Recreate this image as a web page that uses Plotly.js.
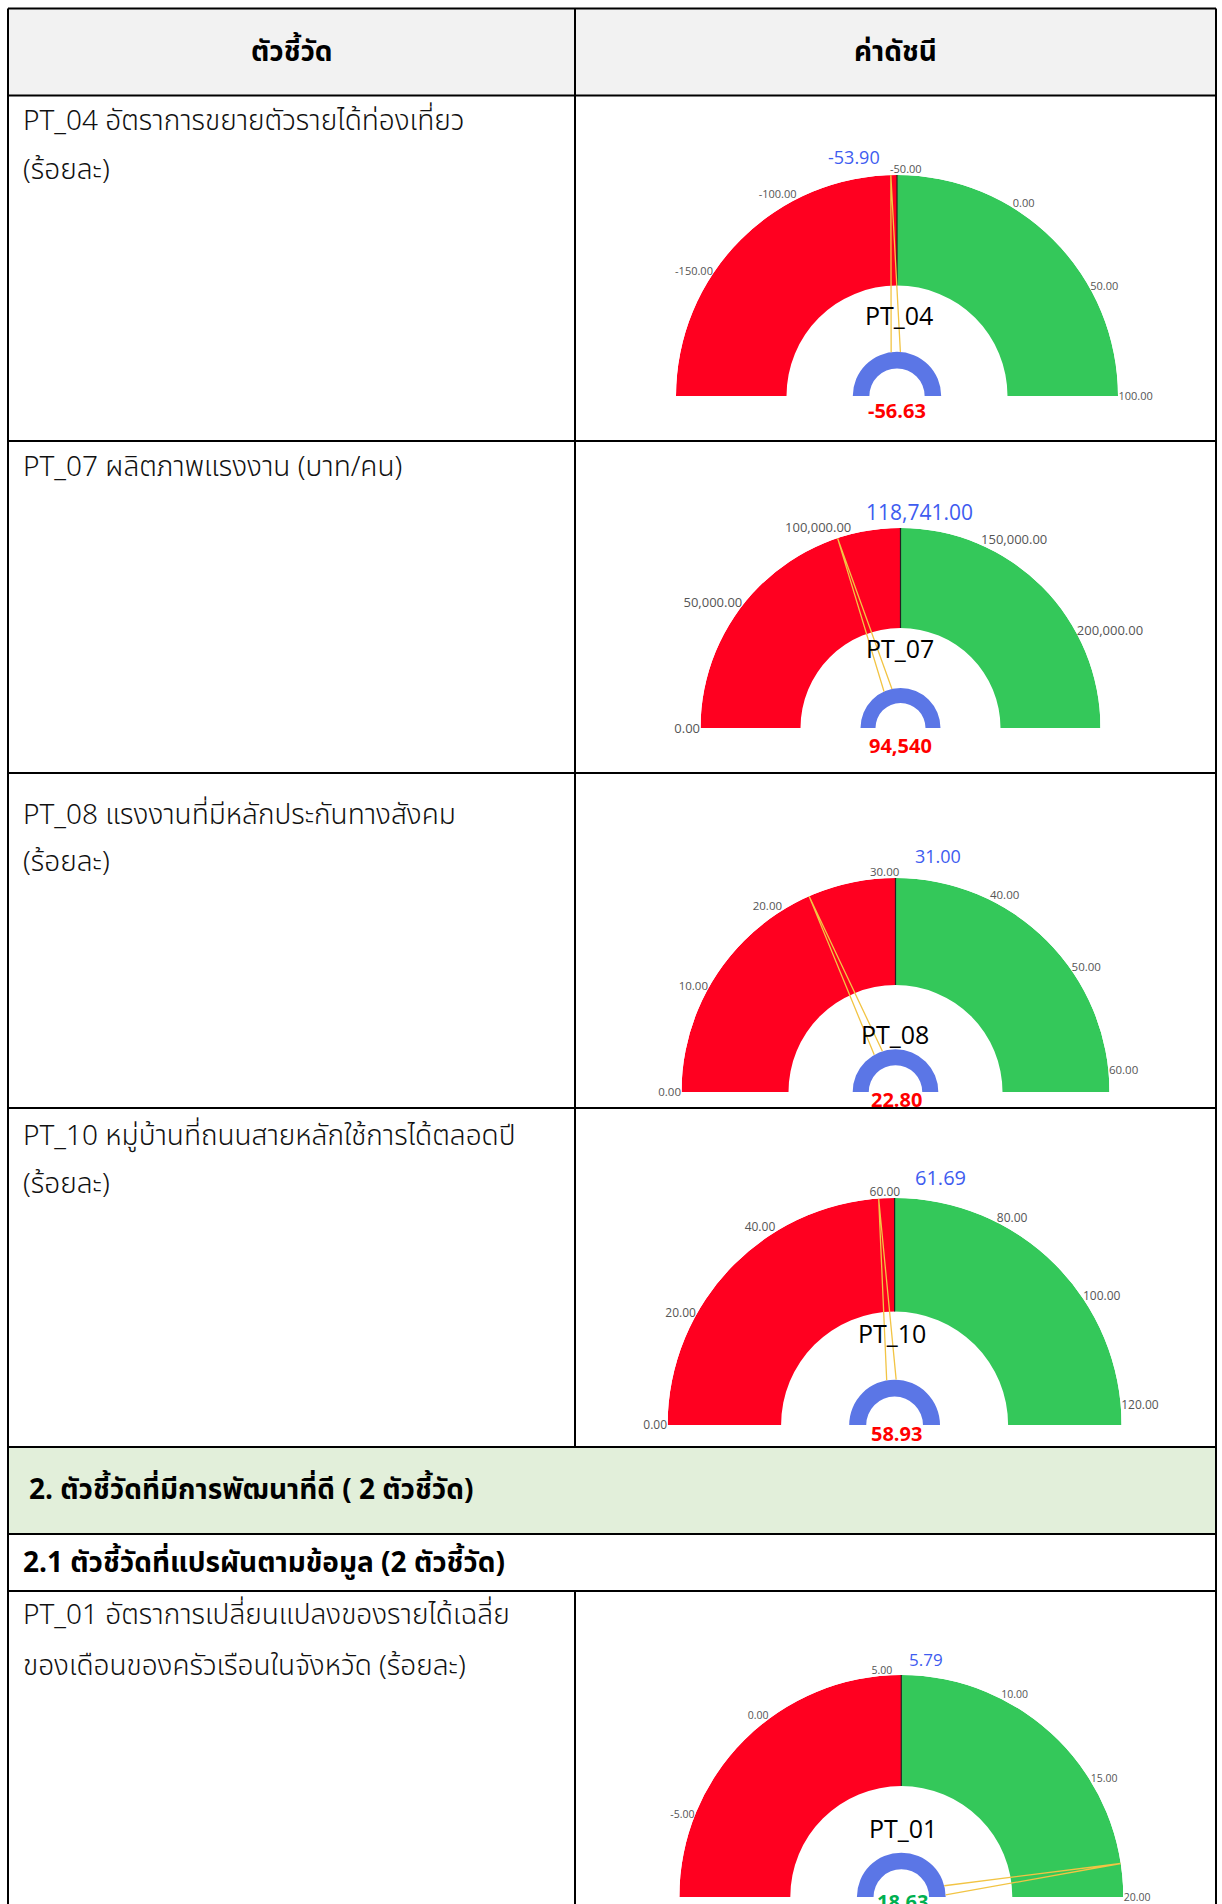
<!DOCTYPE html>
<html><head><meta charset="utf-8">
<script src="https://cdn.plot.ly/plotly-3.0.1.min.js"></script>
<style>html,body{margin:0;padding:0;background:#fff;} #chart{width:1222px;height:1904px;}</style>
</head><body><div id="chart"></div>
<script>
// ---------------- data ----------------
const headerLabels = ["ตัวชี้วัด", "ค่าดัชนี"];
const sectionTitle = "2. ตัวชี้วัดที่มีการพัฒนาที่ดี ( 2 ตัวชี้วัด)";
const subsectionTitle = "2.1 ตัวชี้วัดที่แปรผันตามข้อมูล (2 ตัวชี้วัด)";
const indicatorCodes = ["PT_04", "PT_07", "PT_08", "PT_10", "PT_01"];
const indicatorText = [
  ["PT_04 อัตราการขยายตัวรายได้ท่องเที่ยว", "(ร้อยละ)"],
  ["PT_07 ผลิตภาพแรงงาน (บาท/คน)"],
  ["PT_08 แรงงานที่มีหลักประกันทางสังคม", "(ร้อยละ)"],
  ["PT_10 หมู่บ้านที่ถนนสายหลักใช้การได้ตลอดปี", "(ร้อยละ)"],
  ["PT_01 อัตราการเปลี่ยนแปลงของรายได้เฉลี่ย", "ของเดือนของครัวเรือนในจังหวัด (ร้อยละ)"]
];
const gaugeValue  = [-56.63, 94540, 22.80, 58.93, 18.63];
const gaugeTarget = [-53.90, 118741, 31.00, 61.69, 5.79];
const gaugeMin    = [-207.80, 0, 0, 0, -8.42];
const gaugeMax    = [100, 237482, 62, 123.38, 20];
const gaugeTicks = [
  [-150, -100, -50, 0, 50, 100],
  [0, 50000, 100000, 150000, 200000],
  [0, 10, 20, 30, 40, 50, 60],
  [0, 20, 40, 60, 80, 100, 120],
  [-5, 0, 5, 10, 15, 20]
];
const valueDecimals = [2, 0, 2, 2, 2];

// ---------------- layout / style ----------------
const W = 1222, H = 1904;
const THAI = "'Noto Sans Thai','Leelawadee UI','Tahoma','Noto Sans',sans-serif";
const LAT = "'Segoe UI','Open Sans','Noto Sans',sans-serif";
const RED = '#FF0020', GREEN = '#34C85A', HUB = '#5B76E6', NEEDLE = '#F2C444';
const BLUE = '#3E5CF0';

const gaugeGeom = [
  {cx: 897,   cy: 396,  R: 221, tick: 11,   title: [899, 315],  val: [897, 410],  tgt: [854, 157],  tgtSize: 18},
  {cx: 900.5, cy: 728,  R: 200, tick: 13,   title: [900, 648],  val: [900, 746],  tgt: [919, 512],  tgtSize: 21},
  {cx: 895.5, cy: 1092, R: 214, tick: 11.5, title: [895, 1034], val: [896, 1099], tgt: [938, 856],  tgtSize: 18},
  {cx: 894.6, cy: 1425, R: 227, tick: 12,   title: [892, 1333], val: [896, 1433], tgt: [940, 1177], tgtSize: 20},
  {cx: 901.3, cy: 1897, R: 222, tick: 10.5, title: [903, 1828], val: [902, 1901], tgt: [926, 1659], tgtSize: 17}
];
const textLineY = [[121, 170], [467], [815, 863], [1136, 1184], [1615, 1666]];
const hLines = [8.5, 95.5, 441, 773, 1108, 1447, 1534, 1591];
const LEFT = 8, MID = 575, RIGHT = 1216;

const px = x => x / W;
const py = y => 1 - y / H;
const fmt = (v, d) => v.toLocaleString('en-US', {minimumFractionDigits: d, maximumFractionDigits: d});

const traces = [];
const layout = {
  width: W, height: H,
  margin: {l: 0, r: 0, t: 0, b: 0},
  paper_bgcolor: '#ffffff',
  showlegend: false,
  xaxis: {visible: false}, yaxis: {visible: false},
  shapes: [], annotations: []
};

// table background fills
layout.shapes.push({type: 'rect', xref: 'paper', yref: 'paper', layer: 'below',
  x0: px(LEFT), x1: px(RIGHT), y0: py(8.5), y1: py(95.5), fillcolor: '#F2F2F2', line: {width: 0}});
layout.shapes.push({type: 'rect', xref: 'paper', yref: 'paper', layer: 'below',
  x0: px(LEFT), x1: px(RIGHT), y0: py(1447), y1: py(1534), fillcolor: '#E2EFDA', line: {width: 0}});
// table lines
hLines.forEach(y => layout.shapes.push({type: 'line', xref: 'paper', yref: 'paper', layer: 'above',
  x0: px(LEFT), x1: px(RIGHT), y0: py(y), y1: py(y), line: {color: '#000', width: 2}}));
[[LEFT, 8.5, H], [RIGHT, 8.5, H], [MID, 8.5, 1447], [MID, 1591, H]].forEach(v =>
  layout.shapes.push({type: 'line', xref: 'paper', yref: 'paper', layer: 'above',
    x0: px(v[0]), x1: px(v[0]), y0: py(v[1]), y1: py(v[2]), line: {color: '#000', width: 2}}));

// header texts
layout.annotations.push({text: '<b>' + headerLabels[0] + '</b>', x: px((LEFT + MID) / 2), y: py(52),
  xref: 'paper', yref: 'paper', showarrow: false, xanchor: 'center', yanchor: 'middle',
  font: {family: THAI, size: 28, color: '#000'}});
layout.annotations.push({text: '<b>' + headerLabels[1] + '</b>', x: px((MID + RIGHT) / 2), y: py(52),
  xref: 'paper', yref: 'paper', showarrow: false, xanchor: 'center', yanchor: 'middle',
  font: {family: THAI, size: 28, color: '#000'}});
layout.annotations.push({text: '<b>' + sectionTitle + '</b>', x: px(27), y: py(1490),
  xref: 'paper', yref: 'paper', showarrow: false, xanchor: 'left', yanchor: 'middle',
  font: {family: THAI, size: 28, color: '#000'}});
layout.annotations.push({text: '<b>' + subsectionTitle + '</b>', x: px(21), y: py(1563),
  xref: 'paper', yref: 'paper', showarrow: false, xanchor: 'left', yanchor: 'middle',
  font: {family: THAI, size: 28, color: '#000'}});

// indicator descriptions
indicatorText.forEach((lines, i) => {
  lines.forEach((t, j) => layout.annotations.push({text: t, x: px(21), y: py(textLineY[i][j]),
    xref: 'paper', yref: 'paper', showarrow: false, xanchor: 'left', yanchor: 'middle',
    font: {family: THAI, size: 28, weight: 300, color: '#111'}}));
});

// gauges
const toTheta = (v, i) => 180 * (v - gaugeMin[i]) / (gaugeMax[i] - gaugeMin[i]);
gaugeGeom.forEach((g, i) => {
  const sp = i === 0 ? 'polar' : 'polar' + (i + 1);
  const thT = toTheta(gaugeTarget[i], i);
  const thV = toTheta(gaugeValue[i], i);
  layout[sp] = {
    domain: {x: [px(g.cx - g.R), px(g.cx + g.R)], y: [py(g.cy), py(g.cy - g.R)]},
    sector: [0, 180],
    bgcolor: 'rgba(0,0,0,0)',
    radialaxis: {range: [0, 1], visible: false},
    angularaxis: {
      rotation: 180, direction: 'clockwise',
      tickmode: 'array',
      tickvals: gaugeTicks[i].map(t => toTheta(t, i)),
      ticktext: gaugeTicks[i].map(t => fmt(t, 2)),
      ticks: '', showline: false, showgrid: false,
      tickfont: {family: LAT, size: g.tick, color: '#555'}
    }
  };
  // red (min..target) and green (target..max) bands
  traces.push({type: 'barpolar', subplot: sp, hoverinfo: 'skip',
    theta: [thT / 2, (thT + 180) / 2], width: [thT, 180 - thT],
    r: [0.5, 0.5], base: [0.5, 0.5],
    marker: {color: [RED, GREEN], line: {width: 0}}});
  // hub
  traces.push({type: 'barpolar', subplot: sp, hoverinfo: 'skip',
    theta: [90], width: [180], r: [0.075], base: [0.125],
    marker: {color: HUB, line: {width: 0}}});
  // target split line
  traces.push({type: 'scatterpolar', subplot: sp, mode: 'lines', hoverinfo: 'skip',
    r: [0.5, 1], theta: [thT, thT], line: {color: '#222', width: 1.2}});
  // needle
  traces.push({type: 'scatterpolar', subplot: sp, mode: 'lines', hoverinfo: 'skip',
    r: [0.2, 1, 0.2], theta: [thV - 6, thV, thV + 6], line: {color: NEEDLE, width: 1.3}});

  // title
  layout.annotations.push({text: indicatorCodes[i], x: px(g.title[0]), y: py(g.title[1]),
    xref: 'paper', yref: 'paper', showarrow: false, xanchor: 'center', yanchor: 'middle',
    font: {family: LAT, size: 25, color: '#000'}});
  // value
  const good = gaugeValue[i] >= gaugeTarget[i];
  layout.annotations.push({text: '<b>' + fmt(gaugeValue[i], valueDecimals[i]) + '</b>',
    x: px(g.val[0]), y: py(g.val[1]),
    xref: 'paper', yref: 'paper', showarrow: false, xanchor: 'center', yanchor: 'middle',
    font: {family: LAT, size: 20, color: good ? '#00B050' : '#FF0000'}});
  // target
  layout.annotations.push({text: fmt(gaugeTarget[i], 2), x: px(g.tgt[0]), y: py(g.tgt[1]),
    xref: 'paper', yref: 'paper', showarrow: false, xanchor: 'center', yanchor: 'middle',
    font: {family: LAT, size: g.tgtSize, color: BLUE}});
});

Plotly.newPlot('chart', traces, layout, {displayModeBar: false, staticPlot: true});
</script>
</body></html>
